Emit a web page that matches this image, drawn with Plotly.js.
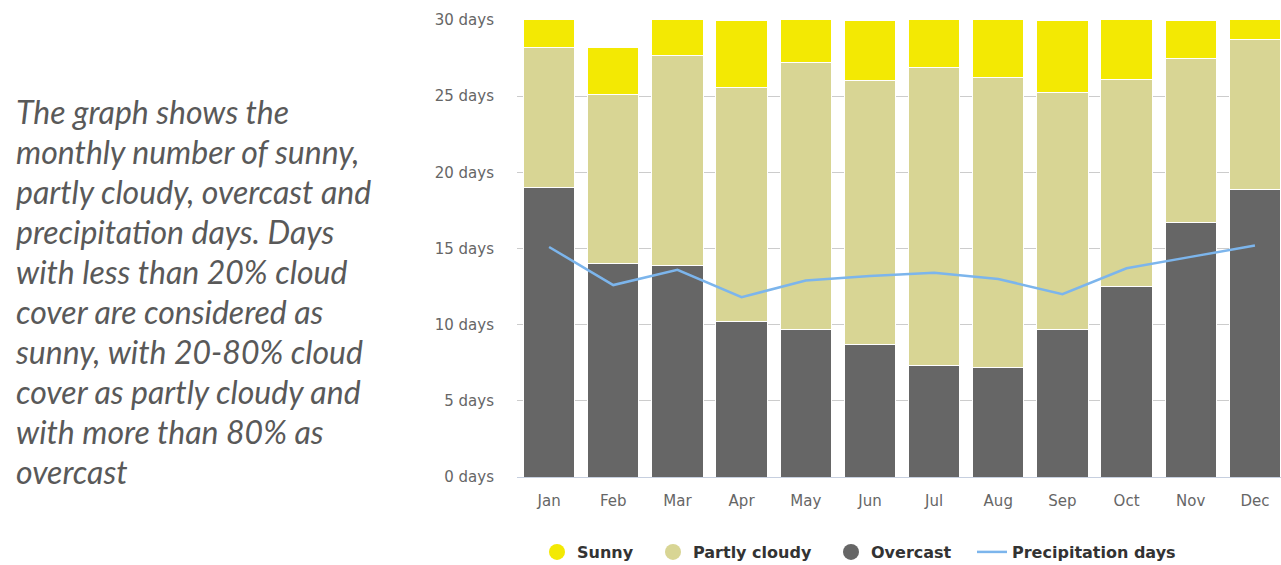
<!DOCTYPE html>
<html>
<head>
<meta charset="utf-8">
<script src="https://cdn.plot.ly/plotly-3.0.1.min.js"></script>
<style>
  html, body { margin: 0; padding: 0; background: #fff; overflow: hidden; width: 1281px; height: 565px; }
  #desc { position: absolute; z-index: 5; left: 16px; top: 92px; font-family: Lato, "Open Sans", sans-serif; font-style: italic;
          font-size: 32px; line-height: 40px; color: #595959; white-space: nowrap; }
  #chart { position: absolute; left: 0; top: 0; width: 1287px; height: 565px; }
</style>
</head>
<body>
<div id="desc">The graph shows the<br>monthly number of sunny,<br>partly cloudy, overcast and<br>precipitation days. Days<br>with less than 20% cloud<br>cover are considered as<br>sunny, with 20-80% cloud<br>cover as partly cloudy and<br>with more than 80% as<br>overcast</div>
<div id="chart"></div>
<script>
const months = ["Jan","Feb","Mar","Apr","May","Jun","Jul","Aug","Sep","Oct","Nov","Dec"];
const overcast = [19.0, 14.0, 13.9, 10.2, 9.7, 8.7, 7.3, 7.2, 9.7, 12.5, 16.7, 18.9];
const partlyCloudy = [9.2, 11.1, 13.75, 15.4, 17.5, 17.3, 19.6, 19.0, 15.55, 13.6, 10.8, 9.8];
const sunny = [2.8, 3.1, 3.35, 4.4, 3.8, 4.0, 4.1, 4.8, 4.75, 4.9, 2.5, 2.3];
const precipitation = [15.1, 12.6, 13.6, 11.8, 12.9, 13.2, 13.4, 13.0, 12.0, 13.7, 14.45, 15.2];
const yTicks = [0, 5, 10, 15, 20, 25, 30];
const yTickLabels = yTicks.map(v => v + " days");

const colSunny = "#f3e903", colPartly = "#d8d594", colOver = "#666666", colPrec = "#7cb5ec";
const barLine = {color: "#ffffff", width: 1};

const traces = [
  {type: "bar", name: "Overcast", x: months, y: overcast, marker: {color: colOver, line: barLine}, showlegend: false},
  {type: "bar", name: "Partly cloudy", x: months, y: partlyCloudy, marker: {color: colPartly, line: barLine}, showlegend: false},
  {type: "bar", name: "Sunny", x: months, y: sunny, marker: {color: colSunny, line: barLine}, showlegend: false},
  {type: "scatter", mode: "lines", name: "Precipitation days", x: months, y: precipitation, line: {color: colPrec, width: 2.5}, showlegend: false},
  // legend entries
  {type: "scatter", mode: "markers", name: "Sunny", x: [null], y: [null], marker: {color: colSunny, size: 16, symbol: "circle"}, legend: "legend"},
  {type: "scatter", mode: "markers", name: "Partly cloudy", x: [null], y: [null], marker: {color: colPartly, size: 16, symbol: "circle"}, legend: "legend2"},
  {type: "scatter", mode: "markers", name: "Overcast", x: [null], y: [null], marker: {color: colOver, size: 16, symbol: "circle"}, legend: "legend3"},
  {type: "scatter", mode: "lines", name: "Precipitation days", x: [null], y: [null], line: {color: colPrec, width: 2.5}, legend: "legend4"}
];

const W = 1287;
function leg(leftPx) {
  return {orientation: "h", xref: "container", yref: "container",
          x: leftPx / W, xanchor: "left", y: 0.023, yanchor: "middle",
          font: {family: "DejaVu Sans, sans-serif", size: 16, color: "#333333", weight: "bold"},
          itemwidth: 30, bgcolor: "rgba(0,0,0,0)", borderwidth: 0};
}

const layout = {
  width: W, height: 565,
  margin: {l: 517, r: 0, t: 20, b: 88, autoexpand: false},
  paper_bgcolor: "rgba(0,0,0,0)", plot_bgcolor: "rgba(0,0,0,0)",
  barmode: "stack", bargap: 0.2,
  font: {family: "DejaVu Sans, sans-serif", size: 15, color: "#666666"},
  xaxis: {type: "category", showgrid: false, showline: true, linecolor: "#c6cfdf", linewidth: 1,
          ticks: "outside", ticklen: 10, tickcolor: "rgba(0,0,0,0)", tickfont: {size: 15, color: "#666666"}, fixedrange: true},
  yaxis: {range: [0, 30], tickvals: yTicks, ticktext: yTickLabels, showgrid: true, gridcolor: "#cccccc", gridwidth: 1,
          zeroline: false, showline: false, ticks: "outside", ticklen: 19, tickcolor: "rgba(0,0,0,0)",
          tickfont: {size: 15, color: "#666666"}, fixedrange: true},
  showlegend: true,
  legend: leg(537),
  legend2: leg(653),
  legend3: leg(831),
  legend4: leg(972)
};

Plotly.newPlot("chart", traces, layout, {displayModeBar: false, staticPlot: true});
</script>
</body>
</html>
